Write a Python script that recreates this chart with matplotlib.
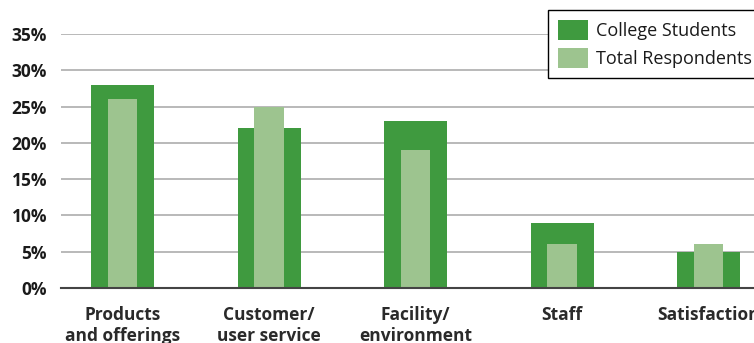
import matplotlib.pyplot as plt
import numpy as np

categories = ["Products\nand offerings", "Customer/\nuser service", "Facility/\nenvironment", "Staff", "Satisfaction"]
college = [28, 22, 23, 9, 5]
total = [26, 25, 19, 6, 6]
yticks = [0, 5, 10, 15, 20, 25, 30, 35]

dark = "#3f9a3f"
light = "#9dc48f"

plt.rcParams['font.family'] = ['Open Sans', 'DejaVu Sans']

fig = plt.figure(figsize=(7.54, 3.43), dpi=100)
ax = fig.add_axes([61 / 754, 1 - 288 / 343, 1 - 61 / 754, (288 - 34) / 343])

x = np.arange(len(categories))
ax.bar(x, college, width=0.43, color=dark, label="College Students", zorder=2)
ax.bar(x, total, width=0.2, color=light, label="Total Respondents", zorder=3)

ax.set_xlim(-0.42, 4.31)
ax.set_ylim(0, 35)
ax.set_yticks(yticks)
ax.set_yticklabels([f"{v}%" for v in yticks], fontsize=12.5, fontweight='bold', color="#1a1a1a")
ax.set_xticks(x)
ax.set_xticklabels(categories, fontsize=12.5, fontweight='bold', color="#2a2a2a", linespacing=1.2)
ax.tick_params(axis='both', length=0)
ax.tick_params(axis='y', pad=10)
ax.tick_params(axis='x', pad=13)

for s in ['top', 'right', 'left']:
    ax.spines[s].set_visible(False)
ax.spines['bottom'].set_color("#444444")
ax.spines['bottom'].set_linewidth(1.5)
ax.spines['bottom'].set_zorder(4)
ax.yaxis.grid(True, color="#b3b3b3", linewidth=1.3, zorder=0)
ax.set_axisbelow(True)

leg = fig.legend(loc='upper left', bbox_to_anchor=(548 / 754, 1 - 10 / 343), fontsize=13,
                 frameon=True, fancybox=False, edgecolor='black', framealpha=1,
                 handlelength=1.65, handleheight=1.33, handletextpad=0.45,
                 labelspacing=0.45, borderpad=0.55, borderaxespad=0)
leg.get_frame().set_linewidth(1.0)
for t in leg.get_texts():
    t.set_color("#1a1a1a")

fig.savefig("out.png", dpi=100)
